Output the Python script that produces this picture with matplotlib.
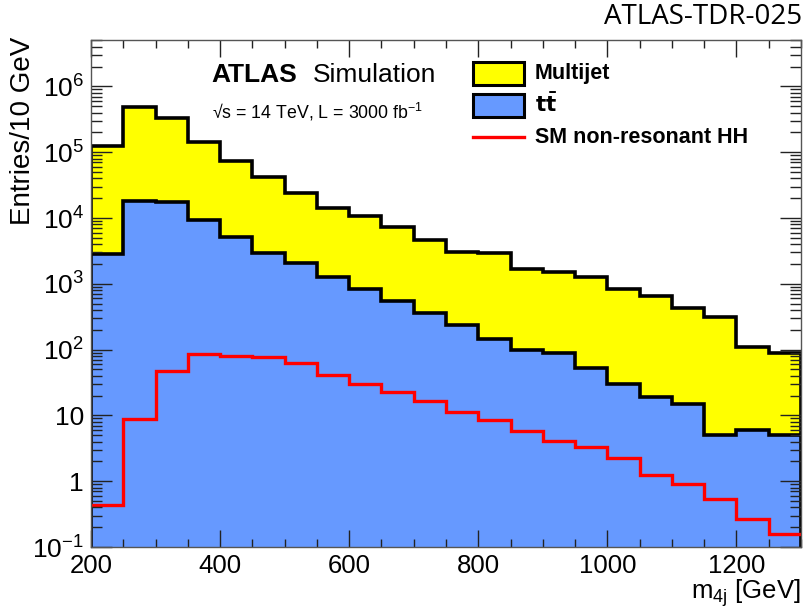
import numpy as np
import matplotlib
matplotlib.use("Agg")
import matplotlib.pyplot as plt
from matplotlib.ticker import FixedLocator, FixedFormatter, MultipleLocator, NullFormatter
from matplotlib.patches import Rectangle
from matplotlib.lines import Line2D

plt.rcParams['font.family'] = ['Liberation Sans', 'DejaVu Sans']
plt.rcParams['mathtext.default'] = 'regular'

# ---- data ----
bin_edges = np.arange(200, 1301, 50)
ttbar = [2.8e3, 1.83e4, 1.73e4, 9.3e3, 5.07e3, 2.95e3, 2.04e3, 1.25e3, 828, 550, 360,
         234, 147, 100, 90, 52, 30, 19, 15, 5.1, 6.05, 5.1]
multijet = [1.212e5, 4.72e5, 3.13e5, 1.347e5, 6.89e4, 3.86e4, 2.22e4, 1.305e4, 9970, 6650,
            4340, 2866, 2813, 1570, 1430, 1218, 798, 636, 421, 308, 104, 85]
hh = [0.44, 8.7, 48, 87, 81, 78, 63, 40.6, 30, 22.4, 16.3, 11.2, 8.4, 5.8, 4.06, 3.37,
      2.24, 1.25, 0.91, 0.53, 0.27, 0.16]
ytick_vals = [1e-1, 1, 10, 1e2, 1e3, 1e4, 1e5, 1e6]
ytick_labels = ['$10^{-1}$', '1', '10', '$10^{2}$', '$10^{3}$', '$10^{4}$', '$10^{5}$', '$10^{6}$']
xtick_vals = [200, 400, 600, 800, 1000, 1200]

ttbar = np.array(ttbar)
total = ttbar + np.array(multijet)

fig = plt.figure(figsize=(8.05, 6.09), dpi=100)
ax = fig.add_axes([0.113, 0.1018, 0.882, 0.8317])

base = 1e-3
ax.stairs(total, bin_edges, baseline=base, fill=True, color='#ffff00', lw=0)
ax.stairs(total, bin_edges, baseline=base, fill=False, color='black', lw=2.6)
ax.stairs(ttbar, bin_edges, baseline=base, fill=True, color='#6699ff', lw=0)
ax.stairs(ttbar, bin_edges, baseline=base, fill=False, color='black', lw=2.6)
ax.stairs(hh, bin_edges, baseline=None, fill=False, color='#ff0000', lw=2.4)

ax.set_yscale('log')
ax.set_xlim(200, 1300)
ax.set_ylim(0.1, 5e6)

ax.yaxis.set_major_locator(FixedLocator(ytick_vals))
ax.yaxis.set_major_formatter(FixedFormatter(ytick_labels))
ax.yaxis.set_minor_locator(matplotlib.ticker.LogLocator(base=10, subs=np.arange(2, 10)))
ax.yaxis.set_minor_formatter(NullFormatter())
ax.xaxis.set_major_locator(FixedLocator(xtick_vals))
ax.xaxis.set_minor_locator(MultipleLocator(50))

ax.tick_params(which='both', direction='in', top=True, right=True, color='#222222', width=1.0)
ax.tick_params(which='major', axis='x', length=12, labelsize=18.5, pad=5)
ax.tick_params(which='minor', axis='x', length=6)
ax.tick_params(which='major', axis='y', length=15, labelsize=19, pad=5)
ax.tick_params(which='minor', axis='y', length=8)
for s in ax.spines.values():
    s.set_linewidth(1.0)
    s.set_color('#555555')

fig.text(0.029, 0.94, 'Entries/10 GeV', rotation=90, ha='center', va='top', fontsize=20)
fig.text(0.995, 0.0, r'm$_{4j}$ [GeV]', ha='right', va='bottom', fontsize=18.5)

ax.text(0.170, 0.932, 'ATLAS', transform=ax.transAxes, fontsize=19, fontweight='bold',
        va='center', ha='left')
ax.text(0.313, 0.932, 'Simulation', transform=ax.transAxes, fontsize=19, va='center', ha='left')
ax.text(0.170, 0.858, '√s = 14 TeV, L = 3000 fb$^{-1}$', transform=ax.transAxes,
        fontsize=12.8, va='center', ha='left')

# legend
fx0, fx1 = 473 / 805, 524 / 805
def fy(p):
    return 1 - p / 609
leg_items = [('Multijet', '#ffff00', 62, 85), (r'$\mathbf{t\bar{t}}$', '#6699ff', 94, 117)]
for label, col, y0, y1 in leg_items:
    fig.patches.append(Rectangle((fx0, fy(y1)), fx1 - fx0, fy(y0) - fy(y1), transform=fig.transFigure,
                                 facecolor=col, edgecolor='black', lw=2.2))
    fig.text(535 / 805, fy((y0 + y1) / 2), label, fontsize=15.5, fontweight='bold', va='center', ha='left')
fig.lines.append(Line2D([fx0, fx1], [fy(137), fy(137)], transform=fig.transFigure, color='#ff0000', lw=2.4))
fig.text(535 / 805, fy(137), 'SM non-resonant HH', fontsize=15.5, fontweight='bold', va='center', ha='left')

fig.text(0.997, 0.995, 'ATLAS-TDR-025', ha='right', va='top', fontsize=20, family=['Open Sans', 'DejaVu Sans'])

fig.savefig('out.png', dpi=100)
